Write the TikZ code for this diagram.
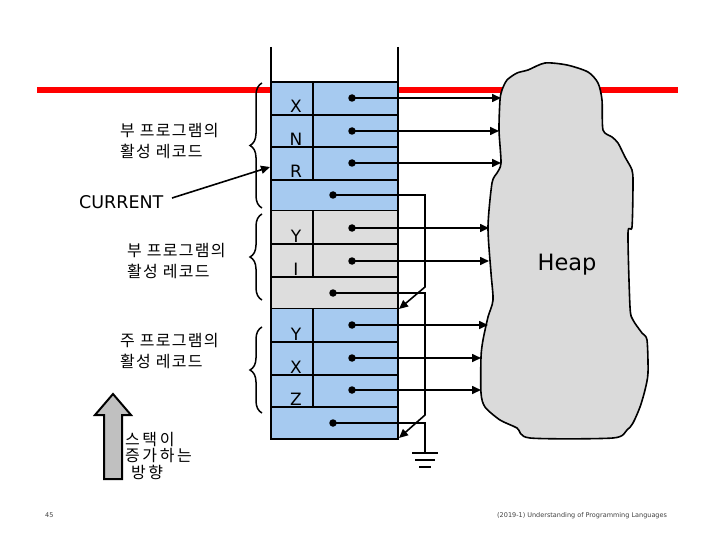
\documentclass[tikz,border=0pt]{standalone}
\usepackage{fontspec}
\setmainfont{DejaVu Sans}
\newfontfamily\kr[LetterSpace=8]{Noto Sans CJK KR}
\newfontfamily\krwide[LetterSpace=16]{Noto Sans CJK KR}
\usetikzlibrary{decorations.pathreplacing,arrows.meta,calc}
\definecolor{recblue}{RGB}{166,202,240}
\definecolor{recgrey}{RGB}{221,221,221}
\definecolor{heapgrey}{RGB}{218,218,218}
\definecolor{arrowgrey}{RGB}{192,192,192}
\begin{document}
\begin{tikzpicture}[x=1pt,y=-1pt,
  ln/.style={line width=1.6pt},
  dot/.style={circle,fill=black,inner sep=0pt,minimum size=7.5pt},
  ptr/.style={line width=1.6pt,-{Triangle[length=9pt,width=8pt]}},
  varlab/.style={font=\fontsize{17}{17}\selectfont,anchor=base,inner sep=0pt},
  krlab/.style={font=\kr\fontsize{16}{21}\selectfont,align=left,anchor=north west,inner sep=0pt},
  brc/.style={decorate,decoration={brace,amplitude=12pt},line width=1.5pt},
  tiny/.style={font=\fontsize{6.5}{7}\selectfont,anchor=base west,inner sep=0pt,text=black!75}
]
\useasboundingbox (0,0) rectangle (720,540);
% red line
\draw[red, line width=6pt] (37,90) -- (678,90);
% heap
\filldraw[fill=heapgrey, line width=1.6pt] plot[smooth cycle, tension=0.45] coordinates {
 (507,80) (517,73) (528,70) (545,63) (567,65) (588,72) (598,83) (602,100) (603,130)
 (612,137) (618,143) (625,157) (632,170) (633,183) (632,227) (628,233) (630,307)
 (633,320) (642,333) (647,340) (648,373) (645,390) (640,407) (633,423) (627,430)
 (613,438) (530,438) (517,428) (500,420) (485,407) (481,393) (481,357) (483,340)
 (488,317) (493,300) (491,273) (488,227) (492,183) (497,173) (501,163) (499,130)
 (500,100) (502,90)};
\node[font=\fontsize{22.5}{22.5}\selectfont,anchor=base,inner sep=0pt] (heap) at (567,270) {Heap};
% stack walls
\draw[ln] (271,47) -- (271,82);
\draw[ln] (398,47) -- (398,82);
% record 1
\fill[recblue] (271,82) rectangle (398,211);
\draw[ln] (271,115) -- (398,115) (271,147) -- (398,147) (271,180) -- (398,180) (271,211) -- (398,211);
\draw[ln] (313,82) -- (313,180);
\draw[line width=2.4pt] (271,147) -- (337,147);
% record 2
\fill[recgrey] (271,211) rectangle (398,309);
\draw[ln] (271,244) -- (398,244) (271,277) -- (398,277) (271,309) -- (398,309);
\draw[ln] (313,211) -- (313,277);
% record 3
\fill[recblue] (271,309) rectangle (398,439);
\draw[ln] (271,342) -- (398,342) (271,375) -- (398,375) (271,407) -- (398,407);
\draw[ln] (313,309) -- (313,407);
\draw[line width=2.4pt] (271,375) -- (337,375);
% outer frame
\draw[line width=2.4pt] (271,82) rectangle (398,439);
% variable labels
\node[varlab] (vx1) at (296,113) {X};
\node[varlab] (vn) at (296,146) {N};
\node[varlab] (vr) at (296,178) {R};
\node[varlab] (vy1) at (296,242) {Y};
\node[varlab] (vi) at (296,275) {I};
\node[varlab] (vy2) at (296,340) {Y};
\node[varlab] (vx2) at (296,373) {X};
\node[varlab] (vz) at (296,405) {Z};
% dots
\node[dot] (d1) at (352,98) {};
\node[dot] (d2) at (352,131) {};
\node[dot] (d3) at (352,163) {};
\node[dot] (d4) at (333,195) {};
\node[dot] (d5) at (352,228) {};
\node[dot] (d6) at (352,261) {};
\node[dot] (d7) at (333,293) {};
\node[dot] (d8) at (352,325) {};
\node[dot] (d9) at (352,358) {};
\node[dot] (d10) at (352,390) {};
\node[dot] (d11) at (333,423) {};
% heap entry points
\coordinate (h1) at (501,98);
\coordinate (h2) at (499,131);
\coordinate (h3) at (501,163);
\coordinate (h5) at (489,228);
\coordinate (h6) at (489,261);
\coordinate (h8) at (488,325);
\coordinate (h9) at (481,358);
\coordinate (h10) at (481,390);
\foreach \i in {1,2,3,5,6,8,9,10} \draw[ptr] (d\i.center) -- (h\i);
% links
\coordinate (t1) at (399,309);
\coordinate (t2) at (399,438);
\coordinate (g) at (425,453);
\draw[ptr] (d4.center) -- (425,195) -- (425,287) -- (t1);
\draw[ptr] (d7.center) -- (425,293) -- (425,415) -- (t2);
\draw[ln] (d11.center) -- (425,423) -- (g);
\draw[ln] (412,453) -- (438,453) (415,460) -- (435,460) (419,467) -- (431,467);
% braces
\draw[brc] (262,208) -- (262,83);
\draw[brc] (262,300) -- (262,214);
\draw[brc] (262,413) -- (262,327);
% korean labels
\node[krlab] (k1) at (120,123) {부 프로그램의\\활성 레코드};
\node[krlab] (k2) at (127,243) {부 프로그램의\\활성 레코드};
\node[krlab] (k3) at (120,333) {주 프로그램의\\활성 레코드};
% current
\node[font=\fontsize{17.5}{17.5}\selectfont,anchor=base west,inner sep=0pt] (cur) at (79,209) {CURRENT};
\coordinate (ct) at (270,167);
\draw[ptr] (172,198) -- (ct);
% growth arrow
\filldraw[fill=arrowgrey, line width=2pt] (104,479) -- (122,479) -- (122,415) -- (131,415) -- (113,394) -- (95,415) -- (104,415) -- cycle;
\node[font=\krwide\fontsize{16}{16.5}\selectfont,align=left,anchor=north west,inner sep=0pt] (grow) at (125,432) {스택이\\증가하는\\\hspace*{6pt}방향};
% footer
\node[tiny] (pg) at (45,517) {45};
\node[tiny] (ft) at (497,517) {(2019-1) Understanding of Programming Languages};
\end{tikzpicture}
\end{document}
